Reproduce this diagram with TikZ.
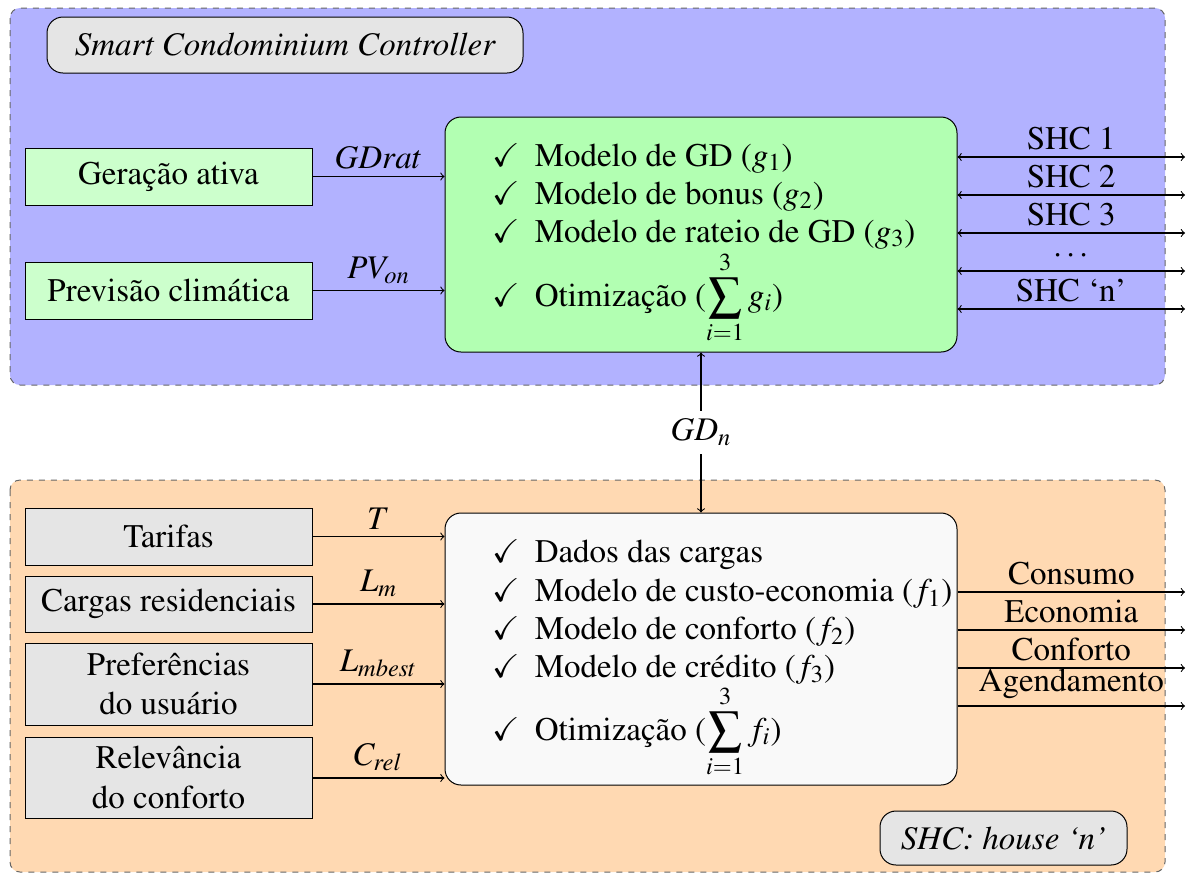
\documentclass[tikz,border=0pt]{standalone}
\usepackage[T1]{fontenc}
\usepackage{amssymb}
\usepackage{mathptmx}
\usetikzlibrary{arrows}
\begin{document}
\begin{tikzpicture}[x=0.5pt,y=-0.5pt,
  font=\rmfamily\fontsize{16.5}{19.8}\selectfont,
  region/.style={draw=gray!80!black,dashed,rounded corners=5pt,line width=0.5pt},
  inbox/.style={draw,line width=0.5pt,minimum width=143.5pt,align=center,inner sep=0pt},
  tag/.style={draw,rounded corners=8pt,fill=gray!20,line width=0.5pt,font=\rmfamily\fontsize{16.5}{19.8}\selectfont\itshape,inner sep=0pt},
  core/.style={draw,rounded corners=8pt,line width=0.5pt,inner sep=0pt},
  item/.style={anchor=base west,inner sep=0pt},
  link/.style={->,line width=0.55pt},
  dlink/.style={<->,line width=0.55pt}]
\useasboundingbox (0,0) rectangle (1187,874);

% dashed background regions
\path[region,fill=blue!30] (10,8) rectangle (1165,385);
\path[region,fill=orange!30] (10,480) rectangle (1165,872);

% region titles
\node[tag,minimum width=238pt,minimum height=28pt] (sccTitle) at (285,45) {Smart Condominium Controller};
\node[tag,minimum width=123.5pt,minimum height=27pt] (shcTitle) at (1003.5,838) {SHC: house `n'};

% condominium controller
\node[inbox,fill=green!20,minimum height=28.5pt] (gen) at (168.5,176.5) {Geração ativa};
\node[inbox,fill=green!20,minimum height=28.5pt] (prev) at (168.5,290.5) {Previsão climática};
\node[core,fill=green!30,minimum width=256pt,minimum height=117.5pt] (scc) at (701,234.5) {};

\node[item] (g1) at (492,166) {$\checkmark$\hspace{0.45em}Modelo de GD ($g_1$)};
\node[item] (g2) at (492,204) {$\checkmark$\hspace{0.45em}Modelo de bonus ($g_2$)};
\node[item] (g3) at (492,242) {$\checkmark$\hspace{0.45em}Modelo de rateio de GD ($g_3$)};
\node[item] (gopt) at (492,306) {$\checkmark$\hspace{0.45em}Otimização ($\displaystyle\sum_{i=1}^{3} g_i$)};

\draw[link] (gen.east) -- node[above] {$GDrat$} (gen.east -| scc.west);
\draw[link] (prev.east) -- node[above] {$PV_{on}$} (prev.east -| scc.west);

% links to the house controllers
\coordinate (s1) at (1185,157);
\coordinate (s2) at (1185,195);
\coordinate (s3) at (1185,233);
\coordinate (s4) at (1185,271);
\coordinate (s5) at (1185,309);
\draw[dlink] (scc.east |- s1) -- node[above] {SHC 1} (s1);
\draw[dlink] (scc.east |- s2) -- node[above] {SHC 2} (s2);
\draw[dlink] (scc.east |- s3) -- node[above] {SHC 3} (s3);
\draw[dlink] (scc.east |- s4) -- node[above] {$\cdots$} (s4);
\draw[dlink] (scc.east |- s5) -- node[above] {SHC `n'} (s5);

% house controller
\node[inbox,fill=gray!20,minimum height=28.5pt] (tar) at (168.5,536.5) {Tarifas};
\node[inbox,fill=gray!20,minimum height=28pt] (carg) at (168.5,604) {Cargas residenciais};
\node[inbox,fill=gray!20,minimum height=41pt] (pref) at (168.5,684) {Preferências\\do usuário};
\node[inbox,fill=gray!20,minimum height=40.5pt] (rel) at (168.5,777.5) {Relevância\\do conforto};
\node[core,fill=gray!5,minimum width=256pt,minimum height=136pt] (shc) at (701,649) {};

\node[item] (f0) at (492,562) {$\checkmark$\hspace{0.45em}Dados das cargas};
\node[item] (f1) at (492,601) {$\checkmark$\hspace{0.45em}Modelo de custo-economia ($f_1$)};
\node[item] (f2) at (492,639) {$\checkmark$\hspace{0.45em}Modelo de conforto ($f_2$)};
\node[item] (f3) at (492,677) {$\checkmark$\hspace{0.45em}Modelo de crédito ($f_3$)};
\node[item] (fopt) at (492,740) {$\checkmark$\hspace{0.45em}Otimização ($\displaystyle\sum_{i=1}^{3} f_i$)};

\draw[link] (tar.east) -- node[above] {$T$} (tar.east -| shc.west);
\draw[link] (carg.east) -- node[above] {$L_m$} (carg.east -| shc.west);
\draw[link] (pref.east) -- node[above] {$L_{mbest}$} (pref.east -| shc.west);
\coordinate (relout) at (312,778);
\draw[link] (relout) -- node[above] {$C_{rel}$} (relout -| shc.west);

\coordinate (o1) at (1185,592);
\coordinate (o2) at (1185,630);
\coordinate (o3) at (1185,668);
\coordinate (o4) at (1185,706);
\draw[link] (shc.east |- o1) -- node[above] {Consumo} (o1);
\draw[link] (shc.east |- o2) -- node[above] {Economia} (o2);
\draw[link] (shc.east |- o3) -- node[above] {Conforto} (o3);
\draw[link] (shc.east |- o4) -- node[above] {Agendamento} (o4);

% exchange between the two levels
\draw[dlink] (scc.south) -- node[fill=white,inner sep=4pt] {$GD_n$} (shc.north);
\end{tikzpicture}
\end{document}
